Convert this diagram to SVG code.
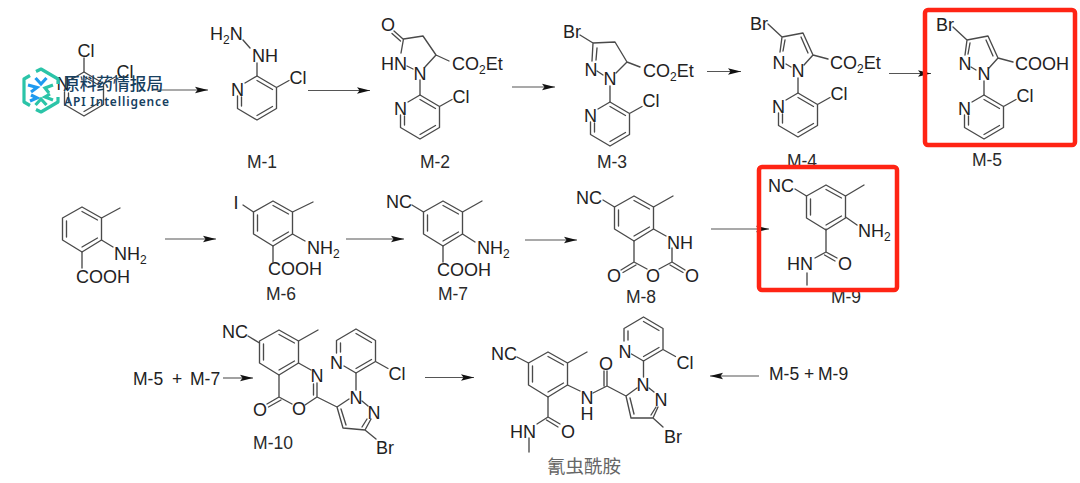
<svg xmlns="http://www.w3.org/2000/svg" width="1080" height="483" viewBox="0 0 1080 483">
<style>
text{font-family:"Liberation Sans",Arial,sans-serif;font-size:18px;fill:#222}
.a{text-anchor:middle}
.l{font-size:17.5px;text-anchor:middle;fill:#2a2a2a}
.s{font-size:12px}
.b{fill:none;stroke:#4a4a4a;stroke-width:1.35;stroke-linecap:round;stroke-linejoin:round}
.ar{fill:none;stroke:#555;stroke-width:1.1;marker-end:url(#h)}
.box{fill:none;stroke:#ff2414;stroke-width:4.5}
.cn{font-family:"Noto Sans CJK SC",sans-serif;font-size:18.5px;fill:#666;text-anchor:middle}
.wm{font-family:"Noto Sans CJK SC",sans-serif;font-size:16.7px;font-weight:500;fill:#17405f}
.we{font-family:"Noto Sans","Liberation Sans",sans-serif;font-size:12px;font-weight:600;fill:#17405f}
.lg{fill:none;stroke-width:3.200}
</style>
<defs>
<marker id="h" markerUnits="userSpaceOnUse" markerWidth="14" markerHeight="8" refX="13" refY="4" orient="auto" viewBox="0 0 14 8"><path d="M0 .8L13 4L0 7.2L2.5 4Z" fill="#111"/></marker>
<g id="pyr" class="b"><path d="M-12 7L0 0L19.5 11.5V32.5L0 44L-19.5 32.5V20M0 4.5L15.5 13.5M15.5 30.5L0 39.5M-15.5 30V21M19.5 11.5L32 4.5"/></g>
<g id="ben" class="b"><path d="M0 0L19.5 11V33L0 45L-19.5 33V11ZM0 4.5L15.5 13M15.5 31L0 40M-15.5 14V30"/></g>
<g id="pz" class="b"><path d="M-14 -13L0 0L21 -4L31 18L46 22M31 18L22 28M0 0L-2 15M3 3L1 14M19 0L26 16M4 27L9 30"/></g>
</defs>
<g id="connectors">
<path class="ar" d="M153 90H208"/>
<path class="ar" d="M308 90.500H370"/>
<path class="ar" d="M512 87H555"/>
<path class="ar" d="M707 71.500H741"/>
<path class="ar" d="M889 73.500H931"/>
<path class="ar" d="M165 239H216"/>
<path class="ar" d="M346 239H404"/>
<path class="ar" d="M525 240H577"/>
<path class="ar" d="M711 229H769"/>
<path class="ar" d="M223 378H253"/>
<path class="ar" d="M425 377.500H474"/>
<path class="ar" d="M759 376H710"/>
</g>
<g id="start">
<use href="#pyr" x="84" y="72"/><path class="b" d="M84 72V58"/>
<text class="a" x="86" y="56.500">Cl</text><text class="a" x="125" y="77.500">Cl</text><text class="a" x="63" y="90">N</text>
</g>
<g id="m1">
<use href="#pyr" x="257" y="76"/><path class="b" d="M257 76V63M243 40L250 48"/>
<text x="210" y="39.500">H<tspan class="s" dy="4">2</tspan><tspan dy="-4">N</tspan></text><text x="252" y="61.500">NH</text>
<text class="a" x="237.500" y="95.500">N</text><text class="a" x="298" y="83.500">Cl</text><text class="l" x="262" y="168">M-1</text>
</g>
<g id="m2">
<use href="#pyr" x="420" y="95"/>
<path class="b" d="M401 53L403.500 39L423 36L436 55L449 61M436 55L425 67M420 80V95M407 66L413 69M403 39L394 31M400.500 41L392 33.500"/>
<text class="a" x="388" y="30.500">O</text><text x="381" y="69.500">HN</text><text class="a" x="420" y="79.500">N</text>
<text x="452" y="69.500">CO<tspan class="s" dy="4">2</tspan><tspan dy="-4">Et</tspan></text>
<text class="a" x="400.500" y="114.500">N</text><text class="a" x="461" y="102.500">Cl</text><text class="l" x="435" y="168">M-2</text>
</g>
<g id="m3">
<use href="#pyr" x="610" y="102"/>
<path class="b" d="M580 35L593 43L615 42L627 62L640 67M627 62L616 73M593 43L592 61M597 48L596 60M597 71L603 75M610 86V102"/>
<text class="a" x="572" y="37.500">Br</text><text class="a" x="591" y="75.500">N</text><text class="a" x="610" y="84.500">N</text>
<text x="643" y="76.500">CO<tspan class="s" dy="4">2</tspan><tspan dy="-4">Et</tspan></text>
<text class="a" x="590.500" y="121.500">N</text><text class="a" x="651" y="107">Cl</text><text class="l" x="612" y="168">M-3</text>
</g>
<g id="m4">
<use href="#pz" x="782" y="37"/><use href="#pyr" x="798" y="93"/><path class="b" d="M798 78V93"/>
<text class="a" x="759" y="29.500">Br</text><text class="a" x="779" y="68.500">N</text><text class="a" x="798" y="76.500">N</text>
<text x="830" y="68.500">CO<tspan class="s" dy="4">2</tspan><tspan dy="-4">Et</tspan></text>
<text class="a" x="778.500" y="112.500">N</text><text class="a" x="839" y="99.500">Cl</text><text class="l" x="802" y="166.500">M-4</text>
</g>
<g id="m5">
<use href="#pz" x="967" y="40"/><use href="#pyr" x="984" y="95"/><path class="b" d="M984 81V95"/>
<text class="a" x="945" y="30.500">Br</text><text class="a" x="965" y="69.500">N</text><text class="a" x="984" y="79.500">N</text>
<text x="1015" y="69.500">COOH</text>
<text class="a" x="964.500" y="114.500">N</text><text class="a" x="1025" y="101.500">Cl</text><text class="l" x="987" y="166">M-5</text>
</g>
<g id="acid">
<use href="#ben" x="82" y="207"/><path class="b" d="M101.500 218L120 208M101.500 240L113 247M82 252V268"/>
<text x="114" y="259.500">NH<tspan class="s" dy="4">2</tspan></text><text x="76" y="282.500">COOH</text>
</g>
<g id="m6">
<use href="#ben" x="273" y="201"/><path class="b" d="M243 205L253.500 212M292.500 212L313 202M292.500 234L305 241M273 246V262"/>
<text class="a" x="236" y="208.500">I</text><text x="307" y="253.500">NH<tspan class="s" dy="4">2</tspan></text><text x="268" y="274.500">COOH</text><text class="l" x="281" y="300">M-6</text>
</g>
<g id="m7">
<use href="#ben" x="443" y="201"/><path class="b" d="M412 205L423.500 212M462.500 212L482 201M462.500 234L475 242M443 246V262"/>
<text x="386" y="207.500">NC</text><text x="477" y="253.500">NH<tspan class="s" dy="4">2</tspan></text><text x="437" y="275.500">COOH</text><text class="l" x="453" y="299.500">M-7</text>
</g>
<g id="m8">
<use href="#ben" x="634" y="196"/>
<path class="b" d="M603 200L614.500 207M653.500 207L673 196M653.500 229L666 236M634 241V262L647 269M659 269L672 262V248M672 262L685 270M670 265L683 272.500M634 262L621 270M636 265L623 272.500"/>
<text x="576" y="203.500">NC</text><text x="667" y="248.500">NH</text><text class="a" x="653" y="281.500">O</text><text class="a" x="614" y="281.500">O</text><text class="a" x="692" y="281.500">O</text><text class="l" x="641" y="303">M-8</text>
</g>
<g id="m9">
<use href="#ben" x="826" y="185"/>
<path class="b" d="M795 189L806.500 196M845.500 196L864 185M845.500 217L857 225M826 229V252L815 258M826 252L837 258M824.500 255L835 261M807 273V285"/>
<text x="768" y="191.500">NC</text><text x="858" y="236.500">NH<tspan class="s" dy="4">2</tspan></text><text x="787" y="269.500">HN</text><text class="a" x="845" y="269.500">O</text><text class="l" x="846" y="302.500">M-9</text>
</g>
<g id="m10">
<text x="133" y="385" style="font-size:17.5px">M-5</text><text x="172" y="385" style="font-size:17.5px">+</text><text x="190" y="385" style="font-size:17.5px">M-7</text>
<use href="#ben" x="279" y="330"/><use href="#pyr" transform="translate(356 373) scale(1 -1)"/>
<path class="b" d="M248 336L259.500 343M298.500 341L318 330M298.500 363L311 370M279 375V397L292 404M305 405L317 397L337 407L343 428L365 430L376 439M317 383V397M313.500 384V395M279 397L267 404M281 400L268.500 407M337 407L349 399M365 430L371 419M341 409L346 425M362 427L367 419M362 401L368 406M356 390V373"/>
<text x="222" y="337.500">NC</text><text class="a" x="317" y="381.500">N</text><text class="a" x="299" y="414.500">O</text><text class="a" x="260" y="415.500">O</text>
<text class="a" x="356" y="403.500">N</text><text class="a" x="374" y="418.500">N</text><text x="376" y="453.500">Br</text>
<text class="a" x="336.500" y="369">N</text><text class="a" x="397" y="379.500">Cl</text><text class="l" x="273" y="449">M-10</text>
</g>
<g id="product">
<use href="#ben" x="548" y="352"/><use href="#pyr" transform="translate(643.500 361) scale(1 -1)"/>
<path class="b" d="M517 357L528.500 363M567.500 363L587 352M567.500 385L580 391M593 393L607 386L626 396L631 418L653 418L663 427M607 386V371M604 386V371M626 396L637 388M653 418L658 407M630 398L634 414M651 415L656 407M649 388L654 392M643.500 377V361M548 397V417L537 424M548 417L560 424M546.500 420L558 427M529 438V452"/>
<text x="491" y="359.500">NC</text><text class="a" x="587" y="403.500">N</text><text class="a" x="587" y="419.500">H</text><text class="a" x="606" y="369.500">O</text>
<text class="a" x="643" y="390.500">N</text><text class="a" x="661" y="405.500">N</text><text x="664" y="442.500">Br</text><text class="a" x="625" y="357.500">N</text><text class="a" x="685" y="368.500">Cl</text>
<text x="510" y="437.500">HN</text><text class="a" x="568" y="437.500">O</text><text class="cn" x="584" y="472.500">氰虫酰胺</text>
</g>
<g id="m5m9">
<text x="769" y="380" style="font-size:17.5px">M-5</text><text x="804" y="380" style="font-size:17.5px">+</text><text x="818" y="380" style="font-size:17.5px">M-9</text>
</g>
<g id="highlights">
<rect class="box" x="925" y="10" width="150" height="135" rx="3"/>
<rect class="box" x="759" y="167" width="138" height="123" rx="3"/>
</g>
<g id="watermark">
<path class="lg" d="M36 71.500L41 69L58 79V84M58 97V102L41 112L36 109.500M30 105.500L24 102V79L30 75.500" stroke="#2bc4a8" stroke-linejoin="round"/>
<path class="lg" d="M35.500 78L41 84L46.500 78" stroke="#1e9af0"/>
<path class="lg" d="M28 85L37 87.500L31 92" stroke="#1e9af0"/>
<path class="lg" d="M31 95L37 98L30 101" stroke="#1e9af0"/>
<path class="lg" d="M35.500 105L41 99L46.500 105" stroke="#2bc4a8"/>
<path class="lg" d="M53 85L45 88L49 93" stroke="#2bc4a8"/>
<path class="lg" d="M50 94L45 97L53 100" stroke="#2bc4a8"/>
<text class="wm" x="63" y="89.500">原料药情报局</text>
<text class="we" x="64" y="106" textLength="105" lengthAdjust="spacing">API Intelligence</text>
</g>
</svg>
